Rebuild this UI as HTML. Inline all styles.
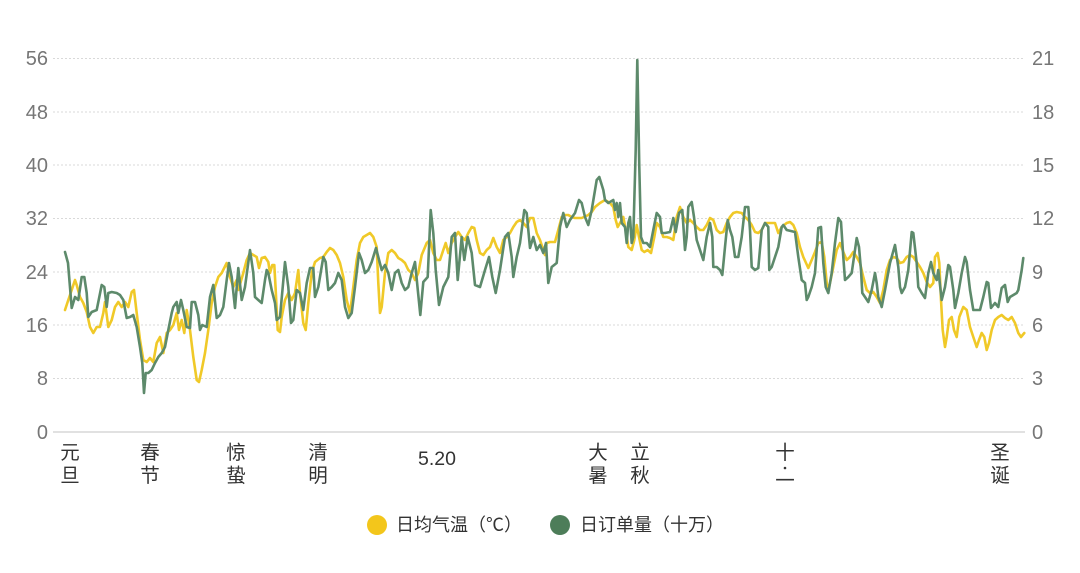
<!DOCTYPE html>
<html><head><meta charset="utf-8"><style>
html,body{margin:0;padding:0;background:#fff;}
body{width:1080px;height:573px;overflow:hidden;}
svg{display:block;}
.tl{font-family:"Liberation Sans","Noto Sans CJK SC",sans-serif;font-size:20px;fill:#767676;}
.xl{font-family:"Liberation Sans","Noto Sans CJK SC",sans-serif;font-size:19.5px;fill:#333;}
.lg{font-family:"Liberation Sans","Noto Sans CJK SC",sans-serif;font-size:18px;fill:#333;}
</style></head><body>
<svg width="1080" height="573" viewBox="0 0 1080 573" xmlns="http://www.w3.org/2000/svg">
<g stroke="#d9d9d9" stroke-width="1" stroke-dasharray="2,2">
<line x1="53" y1="58.5" x2="1025" y2="58.5"/>
<line x1="53" y1="112" x2="1025" y2="112"/>
<line x1="53" y1="165" x2="1025" y2="165"/>
<line x1="53" y1="218.5" x2="1025" y2="218.5"/>
<line x1="53" y1="272" x2="1025" y2="272"/>
<line x1="53" y1="325" x2="1025" y2="325"/>
<line x1="53" y1="378.5" x2="1025" y2="378.5"/>
</g>
<line x1="53" y1="432" x2="1025" y2="432" stroke="#cfcfcf" stroke-width="1.2"/>
<g class="tl" text-anchor="end">
<text x="48" y="65">56</text>
<text x="48" y="119">48</text>
<text x="48" y="172">40</text>
<text x="48" y="225">32</text>
<text x="48" y="279">24</text>
<text x="48" y="332">16</text>
<text x="48" y="385">8</text>
<text x="48" y="439">0</text>
</g>
<g class="tl" text-anchor="start">
<text x="1032" y="65">21</text>
<text x="1032" y="119">18</text>
<text x="1032" y="172">15</text>
<text x="1032" y="225">12</text>
<text x="1032" y="279">9</text>
<text x="1032" y="332">6</text>
<text x="1032" y="385">3</text>
<text x="1032" y="439">0</text>
</g>
<g class="xl" text-anchor="middle">
<text x="70" y="459">元</text><text x="70" y="482">旦</text>
<text x="150" y="459">春</text><text x="150" y="482">节</text>
<text x="236" y="459">惊</text><text x="236" y="482">蛰</text>
<text x="318" y="459">清</text><text x="318" y="482">明</text>
<text x="437" y="465">5.20</text>
<text x="598" y="459">大</text><text x="598" y="482">暑</text>
<text x="640" y="459">立</text><text x="640" y="482">秋</text>
<text x="785" y="459">十</text><circle cx="785" cy="468" r="1.3" fill="#333"/><text x="785" y="487">一</text>
<text x="1000" y="459">圣</text><text x="1000" y="482">诞</text>
</g>
<polyline fill="none" stroke="#f0c928" stroke-width="2.6" stroke-linejoin="round" stroke-linecap="round" points="65,310 68.3,300 71.7,290 75,280 76.7,285 80,297 83.3,303 86.7,312 90,327 93.3,333 96.7,327 100,327 103.3,313 105,302 108.3,327 111.7,320 115,307 118.3,302 121.7,307 125,302 128.3,307 131.7,292 134,290 136.7,313 140,340 143.3,360 146.7,362 150,358 153.3,362 156.7,343 160,337 163.3,353 166.7,333 170,330 173.3,325 176.7,313 179,330 181.7,320 184.3,333 186.7,310 190,330 193.3,357 196.7,380 199,382 201.7,370 205,353 208.3,330 211.7,303 215,287 218.3,277 221.7,273 226.7,263 230,277 233.3,287 236.7,280 238.3,290 243.3,273 246.7,260 250,253 253.3,255 256.7,257 259,268 261.7,258 265,257 268.3,262 270,273 272.3,265 274.3,265 275.7,290 277.7,330 280,332 281.7,317 285,300 288.3,293 291.7,300 295,293 298.3,270 300,293 303.3,323 305.7,330 308.3,303 311.7,273 315,262 320,258 323.3,257 326.7,252 330,248 333.3,250 336.7,255 340,263 343.3,277 346.7,300 350,313 353.3,287 356.7,260 360,243 363.3,237 366.7,235 370,233 373.3,237 376.7,247 378.3,283 380,313 381.7,307 385,273 388.3,253 391.7,250 395,253 398.3,258 401.7,260 405,263 408.3,270 411.7,273 415,280 418.3,273 421.7,255 426.7,243 430,240 433.3,253 436.7,260 440,260 443.3,250 445.7,243 448.3,253 451.7,243 455,237 458.3,232 461.7,237 465,240 468.3,233 471.7,227 474.3,228 476.7,240 480,253 483.3,255 486.7,250 490,247 493.3,238 496.7,247 500,253 503.3,240 506.7,237 510,233 513.3,227 516.7,222 520,220 523.3,223 526.7,227 530,218 533.3,218 536.7,233 540,240 543.3,250 545,255 546.7,243 550,242 555,242 558.3,230 561.7,217 565,215 568.3,215 571.7,217 575,218 581.7,218 588.3,215 591.7,212 595,207 600,203 605,200 610,203 613.3,207 615.7,220 617.7,227 620,223 623.3,217 625.7,230 628.3,247 631.7,250 634.3,240 636.7,225 639,237 641.7,250 644.3,252 647.7,250 651,253 654.3,237 656.7,223 660,227 663.3,237 666.7,237 670,238 673.3,240 676.7,217 680,207 683.3,217 686.7,223 690,220 693.3,223 696.7,227 700,230 703.3,230 706.7,225 710,218 713.3,220 716.7,230 720,233 723.3,232 726.7,223 730,217 733.3,213 736.7,212 741.7,213 745,217 748.3,220 751.7,225 755,232 758.3,233 761.7,230 765,223 770,223 775,223 778.3,233 781.7,227 786.7,223 790,222 793.3,225 796.7,233 800,247 803.3,257 808.3,268 811.7,260 815,252 818.3,243 821.7,242 824.3,257 826.7,283 828.3,290 830,283 833.3,267 836.7,250 840,243 843.3,252 846.7,260 850,257 853.3,252 856.7,257 860,263 863.3,277 866.7,290 870,293 873.3,292 876.7,297 880,303 883.3,290 886.7,270 890,260 893.3,257 896.7,258 900,263 903.3,262 906.7,257 910,255 913.3,257 916.7,262 920,267 923.3,273 926.7,282 930,287 933.3,283 935,257 937.7,253 939.3,263 941,300 942.7,330 945,347 946.7,337 949,320 951.7,317 954,330 956.7,337 959.3,317 963.3,307 966.7,310 970,327 973.3,337 976.7,347 979,340 981.7,333 984.3,337 986.7,350 989,343 991.7,330 995,320 998.3,317 1001.7,315 1005,318 1008.3,320 1011.7,317 1015,323 1018.3,333 1021,337 1024.3,333"/>
<polyline fill="none" stroke="#5d8a6b" stroke-width="2.6" stroke-linejoin="round" stroke-linecap="round" points="65,252 68,263 71.7,308 75,297 78.3,300 81.7,277 84.3,277 86.7,293 88.3,317 91.7,312 96.7,310 101.7,285 104.3,287 106.7,307 108.3,293 111.7,292 116.7,293 120,295 123.3,300 126.7,318 130,317 133.3,315 136.7,327 140,347 142.3,363 144,393 145.7,373 148.3,373 151.7,370 155,363 158.3,357 161.7,353 165,347 168.3,330 171.7,313 173.3,307 176.7,302 178.3,313 181,300 183.3,310 186.7,327 190,328 191.7,302 195,302 198.3,315 200,330 202.3,325 206.7,327 210,297 213.3,285 216.7,318 220,315 223.3,307 226.7,280 229,263 231.7,277 235,308 238.3,268 241.7,300 245,287 250,250 253.3,273 255,297 258.3,300 261.7,303 265,280 266.7,270 268.3,273 271.7,290 275,303 276.7,320 280,317 285,262 288.3,287 291,323 293.3,320 296.7,290 300,293 303.3,310 306.7,283 310,268 313.3,268 315,297 318.3,287 323.3,257 325.7,262 328.3,290 331.7,287 335,283 338.3,273 341.7,280 345,307 348.3,318 351.7,313 355,287 359,253 361.7,260 365,273 368.3,270 371.7,262 376,248 378.3,257 381.7,270 385,265 388.3,273 391.7,290 395,273 398.3,270 401.7,283 405,290 408.3,287 411.7,273 415,262 418.3,295 420.3,315 423.3,282 427.7,277 430.7,210 433.3,233 435.7,270 439,305 443.3,287 448.3,277 451.7,237 455,233 457.7,280 461.7,237 464.3,260 467.7,237 471.7,253 475,285 480,287 485,270 489,257 492.3,277 495.7,293 500,270 505,237 508.3,233 511.7,257 513.3,277 516.7,257 520,243 524.3,210 526.7,213 530,248 533.3,237 536.7,250 540,245 543.3,253 546,243 548.3,283 551.7,267 556.7,263 560,227 563.3,213 566.7,227 570,220 575,213 579,200 581.7,203 585,217 588.3,225 591.7,210 596.7,180 599.3,177 603.3,190 605,200 608.3,203 613.3,200 615,210 616.7,203 618.3,217 620,203 621.7,223 625,227 626.7,243 628.3,223 630,217 631.7,243 633.3,237 635.7,150 637.3,60 639.3,167 641,237 643.3,243 646.7,243 650,247 653.3,230 656.7,213 660,217 661.7,233 665,233 670,232 673.3,218 675.7,232 679,213 682.3,210 685,250 686.7,237 688.3,207 691.7,202 694,217 696.7,240 700,250 703.3,260 706.7,237 710,223 712.3,237 713.3,267 716.7,267 720,270 722.3,275 725,247 727.7,220 730,230 732.3,237 735,257 738.3,257 741.7,237 745,207 748.3,207 750,230 751.7,267 755,270 758.3,268 761.7,230 765,223 768.3,227 769.3,270 771.7,267 775,257 778.3,247 781.7,227 783.3,225 786.7,230 795,232 798.3,257 801.7,280 805,283 806.7,300 808.3,297 811.7,287 815,273 818.3,228 821,227 823.3,263 825.7,287 828.3,293 831.7,273 835,243 838.3,218 841,222 843.3,257 845,280 848.3,277 851.7,273 855,250 856.7,238 859,247 861,270 862.3,293 865,297 868.3,302 871.7,290 875,273 876.7,283 878.3,297 881.7,307 885,290 890,263 895,245 898.3,267 900,287 901.7,293 905,287 908.3,270 911.7,232 913.3,233 916.7,263 918.3,287 921.7,293 925,298 928.3,273 931,262 933.3,273 936.7,280 938.3,270 941.7,300 945,287 948.3,265 950,267 953.3,290 955,308 958.3,293 961.7,273 965,257 966.7,262 970,290 973.3,310 980,310 983.3,297 986.7,282 988.3,283 991,308 995,303 998.3,307 1001.7,288 1005,285 1007.7,302 1010,297 1016.7,293 1018.3,290 1021.7,270 1023.3,258"/>
<circle cx="377" cy="525" r="10" fill="#f3c61b"/>
<text class="lg" x="396" y="531">日均气温（℃）</text>
<circle cx="560" cy="525" r="10" fill="#4d7d59"/>
<text class="lg" x="580" y="531">日订单量（十万）</text>
</svg>
</body></html>
